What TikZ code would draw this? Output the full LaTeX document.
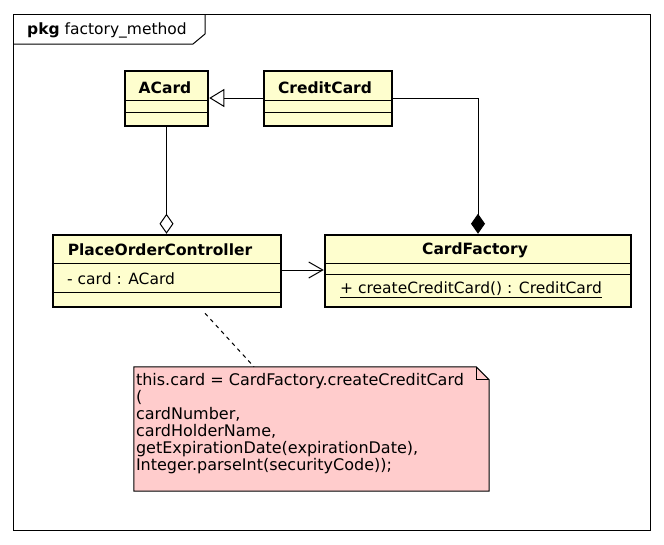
\documentclass[tikz,border=0pt]{standalone}
\usepackage{fontspec}
\setmainfont{DejaVu Sans}
\usetikzlibrary{arrows.meta}
\definecolor{classfill}{HTML}{FEFECE}
\definecolor{notefill}{HTML}{FFCCCC}
\tikzset{
  umlclass/.style={draw, line width=2.5pt, fill=classfill, inner sep=0pt},
  classname/.style={font=\bfseries\fontsize{15.5}{17}\selectfont, inner sep=0pt},
  member/.style={font=\fontsize{15.5}{17}\selectfont, inner sep=0pt, anchor=west},
  thin/.style={line width=1pt},
}
\begin{document}
\begin{tikzpicture}[x=1pt, y=-1pt]
    \useasboundingbox (0,0) rectangle (664,544);
    % package frame
    \draw[thin] (13,14) rectangle (650,530);
    \draw[thin] (13,44) -- (193,44) -- (205,34) -- (205,14);
    \node[member] (pkg) at (27,30) {\textbf{pkg} factory\_method};
    % classes
    \node[umlclass, minimum width=83pt, minimum height=55pt] (acard) at (166.5,98.5) {};
    \node[umlclass, minimum width=128pt, minimum height=55pt] (credit) at (328,98.5) {};
    \node[umlclass, minimum width=228pt, minimum height=72pt] (poc) at (167,271) {};
    \node[umlclass, minimum width=306pt, minimum height=72pt] (factory) at (478,271) {};
    \node[classname] (acardname) at (165,88) {ACard};
    \node[classname] (creditname) at (325,88) {CreditCard};
    \node[classname] (pocname) at (160,250) {PlaceOrderController};
    \node[classname] (factoryname) at (475,250) {CardFactory};
    \node[member] (pocattr) at (67,279) {- card : ACard};
    \node[member] (factorymeth) at (340,290) {\underline{+ createCreditCard() : CreditCard}};
    % separators
    \draw[thin] (acard.west |- 0,100) -- (acard.east |- 0,100);
    \draw[thin] (acard.west |- 0,112) -- (acard.east |- 0,112);
    \draw[thin] (credit.west |- 0,100) -- (credit.east |- 0,100);
    \draw[thin] (credit.west |- 0,112) -- (credit.east |- 0,112);
    \draw[thin] (poc.west |- 0,263) -- (poc.east |- 0,263);
    \draw[thin] (poc.west |- 0,292) -- (poc.east |- 0,292);
    \draw[thin] (factory.west |- 0,263) -- (factory.east |- 0,263);
    \draw[thin] (factory.west |- 0,274) -- (factory.east |- 0,274);
    % relations
    \draw[thin, -{Triangle[open, length=15pt, width=18pt, fill=white]}] (credit.west |- 0,98) -- (acard.east |- 0,98);
    \draw[thin, -{Diamond[length=20pt, width=14pt]}] (credit.east |- 0,98) -| (factory.north);
    \draw[thin, -{Diamond[open, length=20pt, width=14pt, fill=white]}] (acard.south) -- (acard.south |- poc.north);
    \draw[thin, -{Straight Barb[length=14pt, width=16pt]}] (poc.east |- 0,270) -- (factory.west |- 0,270);
    % note
    \node[minimum width=355pt, minimum height=124pt, inner sep=0pt] (note) at (311.5,429) {};
    \filldraw[thin, fill=notefill] (note.north west) -- ([xshift=-13pt]note.north east)
        -- ([yshift=-13pt]note.north east) -- (note.south east) -- (note.south west) -- cycle;
    \draw[thin] ([xshift=-13pt]note.north east) |- ([yshift=-13pt]note.north east);
    \node[member, anchor=north west, align=left, font=\fontsize{16}{17}\selectfont] (notetext) at ([shift={(2,6)}]note.north west)
        {this.card = CardFactory.createCreditCard\\(\\cardNumber,\\cardHolderName,\\getExpirationDate(expirationDate),\\Integer.parseInt(securityCode));};
    \draw[thin, dash pattern=on 4pt off 4pt] ([shift={(38,5)}]poc.south) -- ([xshift=-57.5pt]note.north);
\end{tikzpicture}
\end{document}
